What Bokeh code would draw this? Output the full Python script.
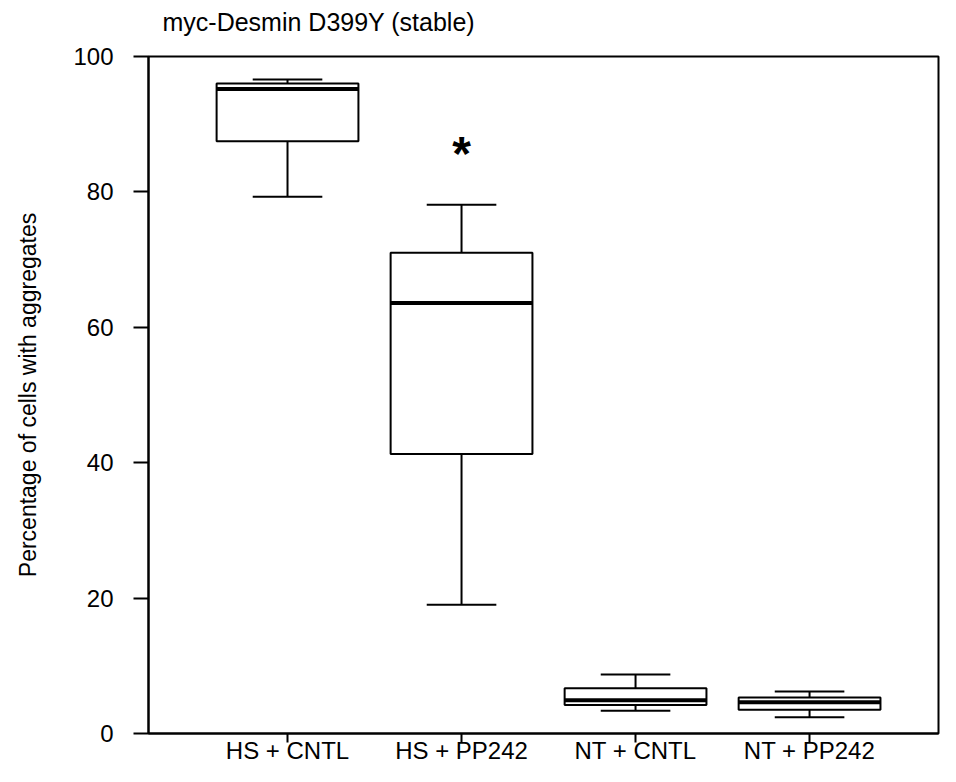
from bokeh.plotting import figure
from bokeh.models import Range1d, FixedTicker, Title
from bokeh.core.properties import value
from bokeh.embed import file_html
from bokeh.resources import INLINE

# ---- data ----
categories = ["HS + CNTL", "HS + PP242", "NT + CNTL", "NT + PP242"]
whisker_low = [79.3, 19.0, 3.35, 2.4]
q1 = [87.5, 41.3, 4.2, 3.5]
median = [95.2, 63.6, 4.9, 4.6]
q3 = [96.0, 71.0, 6.7, 5.3]
whisker_high = [96.6, 78.1, 8.7, 6.2]
y_ticks = [0, 20, 40, 60, 80, 100]
sig_category = "HS + PP242"
sig_y = 85.7
title_text = "myc-Desmin D399Y (stable)"
y_label = "Percentage of cells with aggregates"

FONT = "Liberation Sans"
xs = [i + 1 for i in range(len(categories))]
box_w = 0.815
cap_w = 0.40

p = figure(width=940, height=766, output_backend="svg", toolbar_location=None,
           x_range=Range1d(0.2011, 4.741), y_range=Range1d(0, 100),
           min_border_left=148, min_border_right=2, min_border_top=56,
           min_border_bottom=33)
p.title.visible = False
p.background_fill_color = "white"
p.border_fill_color = "white"
p.grid.visible = False
p.outline_line_color = "black"
p.outline_line_width = 2

# whiskers
p.segment(x0=xs, y0=q3, x1=xs, y1=whisker_high, line_color="black", line_width=2)
p.segment(x0=xs, y0=q1, x1=xs, y1=whisker_low, line_color="black", line_width=2)
p.segment(x0=[x - cap_w / 2 for x in xs], y0=whisker_high,
          x1=[x + cap_w / 2 for x in xs], y1=whisker_high, line_color="black", line_width=2)
p.segment(x0=[x - cap_w / 2 for x in xs], y0=whisker_low,
          x1=[x + cap_w / 2 for x in xs], y1=whisker_low, line_color="black", line_width=2)
# boxes
p.vbar(x=xs, width=box_w, bottom=q1, top=q3, fill_color="white",
       line_color="black", line_width=2)
# medians
p.segment(x0=[x - box_w / 2 for x in xs], y0=median,
          x1=[x + box_w / 2 for x in xs], y1=median, line_color="black", line_width=4)

# significance marker
p.text(x=[xs[categories.index(sig_category)]], y=[sig_y], text=["*"],
       text_font=value(FONT), text_font_size="48px", text_font_style="bold",
       text_align="center", text_baseline="alphabetic", text_color="black")

# axes
xa = p.xaxis[0]
ya = p.yaxis[0]

xa.ticker = FixedTicker(ticks=xs)
xa.major_label_overrides = {x: c for x, c in zip(xs, categories)}
xa.minor_tick_line_color = None
xa.major_tick_in = 0
xa.major_tick_out = 9
xa.major_label_standoff = -6
xa.major_label_text_font = FONT
xa.major_label_text_font_size = "24px"
xa.major_label_text_line_height = 1.0
xa.major_label_text_color = "black"
xa.axis_line_width = 2
xa.major_tick_line_width = 2

ya.ticker = FixedTicker(ticks=y_ticks)
ya.minor_tick_line_color = None
ya.major_tick_in = 0
ya.major_tick_out = 15
ya.major_label_standoff = 20
ya.major_label_text_font = FONT
ya.major_label_text_font_size = "24px"
ya.major_label_text_color = "black"
ya.axis_line_width = 2
ya.major_tick_line_width = 2
ya.axis_label = y_label
ya.axis_label_text_font = FONT
ya.axis_label_text_font_size = "23px"
ya.axis_label_text_font_style = "normal"
ya.axis_label_text_color = "black"
ya.axis_label_standoff = 29

# blank spacer directly above the frame, then the real title above it
p.add_layout(Title(text=" ", text_font_size="1px", standoff=18), "above")
p.add_layout(Title(text=title_text, text_font=FONT, text_font_size="25px",
                   text_font_style="normal", text_color="black", align="left",
                   vertical_align="bottom", offset=14, standoff=0), "above")

open("out.html", "w").write(file_html(p, INLINE))
